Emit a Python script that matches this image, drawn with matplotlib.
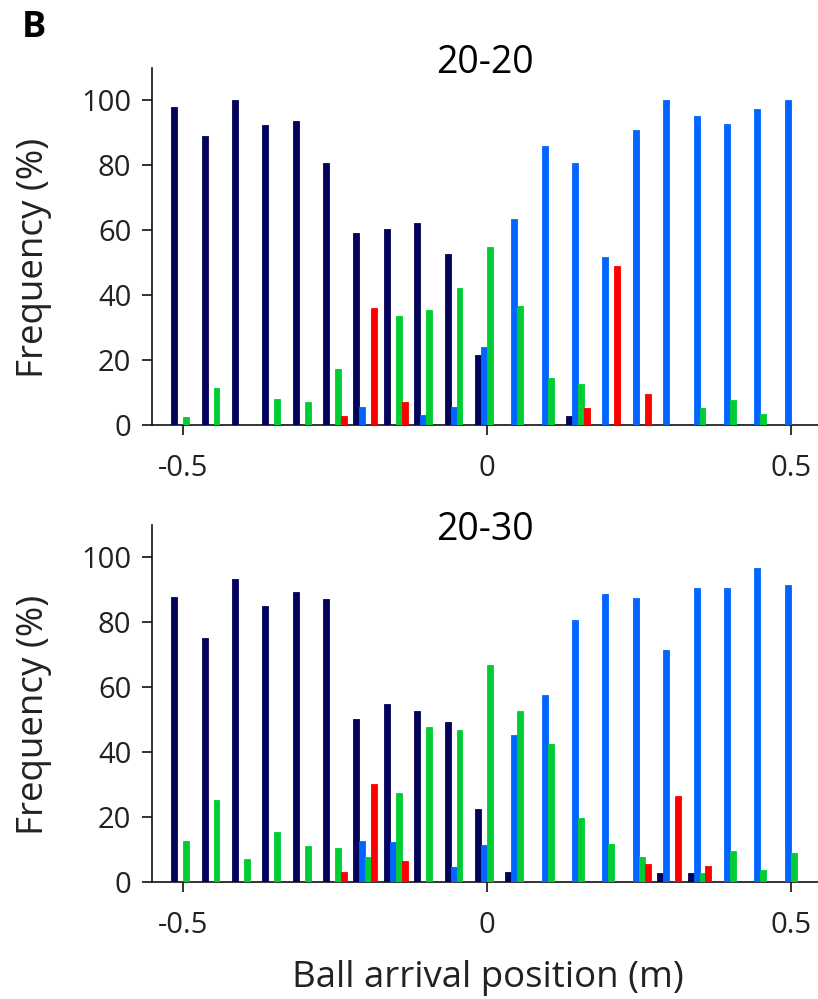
import numpy as np
import matplotlib
matplotlib.use("Agg")
import matplotlib.pyplot as plt

# ---- Data ---- #
positions = [-0.5, -0.45, -0.4, -0.35, -0.3, -0.25, -0.2, -0.15, -0.1, -0.05,
             0.0, 0.05, 0.1, 0.15, 0.2, 0.25, 0.3, 0.35, 0.4, 0.45, 0.5]

# panel 20-20
navy_2020 = [98.0, 89.0, 100.0, 92.3, 93.6, 80.7, 59.2, 60.3, 62.3, 52.8,
             21.7, 0, 0, 2.8, 0, 0, 0, 0, 0, 0, 0]
blue_2020 = [0, 0, 0, 0, 0, 0, 5.5, 0, 3.1, 5.6,
             24.1, 63.5, 85.9, 80.7, 51.6, 91.0, 100.0, 95.1, 92.8, 97.2, 100.0]
green_2020 = [2.4, 11.4, 0, 8.1, 7.0, 17.3, 0, 33.6, 35.4, 42.3,
              54.9, 36.8, 14.6, 12.5, 0, 0, 0, 5.2, 7.6, 3.3, 0]
red_2020 = [0, 0, 0, 0, 0, 2.8, 36.1, 7.0, 0, 0,
            0, 0, 0, 5.2, 48.9, 9.4, 0, 0, 0, 0, 0]

# panel 20-30
navy_2030 = [87.9, 75.3, 93.4, 85.1, 89.3, 87.3, 50.2, 54.7, 52.7, 49.1,
             22.5, 2.9, 0, 0, 0, 0, 2.7, 2.6, 0, 0, 0]
blue_2030 = [0, 0, 0, 0, 0, 0, 12.7, 12.4, 0, 4.6,
             11.3, 45.1, 57.7, 80.6, 88.6, 87.5, 71.5, 90.7, 90.6, 96.8, 91.4]
green_2030 = [12.5, 25.3, 6.9, 15.3, 11.0, 10.5, 7.7, 27.4, 47.6, 46.8,
              66.8, 52.6, 42.6, 19.7, 11.7, 7.7, 0, 2.6, 9.6, 3.5, 8.8]
red_2030 = [0, 0, 0, 0, 0, 2.9, 30.2, 6.4, 0, 0,
            0, 0, 0, 0, 0, 5.4, 26.4, 4.9, 0, 0, 0]

# ---- Style ---- #
NAVY = "#03025c"
BLUE = "#0066ff"
GREEN = "#00cc33"
RED = "#ff0000"
TEXT = "#222222"
W = 0.0098

plt.rcParams["font.family"] = ["Open Sans", "DejaVu Sans"]

fig = plt.figure(figsize=(8.18, 9.99), dpi=100)
ax_top = fig.add_axes([0.186, 0.5746, 0.814, 0.3574])
ax_bot = fig.add_axes([0.186, 0.1174, 0.814, 0.3571])


def draw_panel(ax, title, title_y, navy, blue, green, red):
    x = np.array(positions)
    series = [(navy, NAVY), (blue, BLUE), (green, GREEN), (red, RED)]
    for i, (vals, col) in enumerate(series):
        ax.bar(x + (i - 1.5) * W, vals, width=W, color=col,
               edgecolor=col, linewidth=0.6, zorder=3)
    ax.set_xlim(-0.551, 0.545)
    ax.set_ylim(0, 110)
    ax.set_xticks([-0.5, 0, 0.5])
    ax.set_xticklabels(["-0.5", "0", "0.5"])
    ax.set_yticks([0, 20, 40, 60, 80, 100])
    ax.spines["top"].set_visible(False)
    ax.spines["right"].set_visible(False)
    for s in ["left", "bottom"]:
        ax.spines[s].set_color("#111111")
        ax.spines[s].set_linewidth(1.2)
    ax.tick_params(axis="both", direction="out", length=7, width=1.2,
                   labelsize=21, colors="#111111", labelcolor=TEXT)
    ax.tick_params(axis="y", pad=8)
    ax.tick_params(axis="x", pad=14)
    ax.set_ylabel("Frequency (%)", fontsize=26.5, color=TEXT)
    ax.yaxis.set_label_coords(-0.150, 0.468)
    ax.text(0.5, title_y, title, transform=ax.transAxes, ha="center",
            va="center", fontsize=27, color="black")


draw_panel(ax_top, "20-20", 1.015, navy_2020, blue_2020, green_2020, red_2020)
draw_panel(ax_bot, "20-30", 0.986, navy_2030, blue_2030, green_2030, red_2030)

fig.text(0.597, 0.012, "Ball arrival position (m)", fontsize=26.4,
         color=TEXT, ha="center", va="baseline")

fig.text(0.041, 0.9715, "B", fontsize=26, fontweight="bold", ha="center",
         va="center", color="black")

fig.savefig("out.png", dpi=100)
